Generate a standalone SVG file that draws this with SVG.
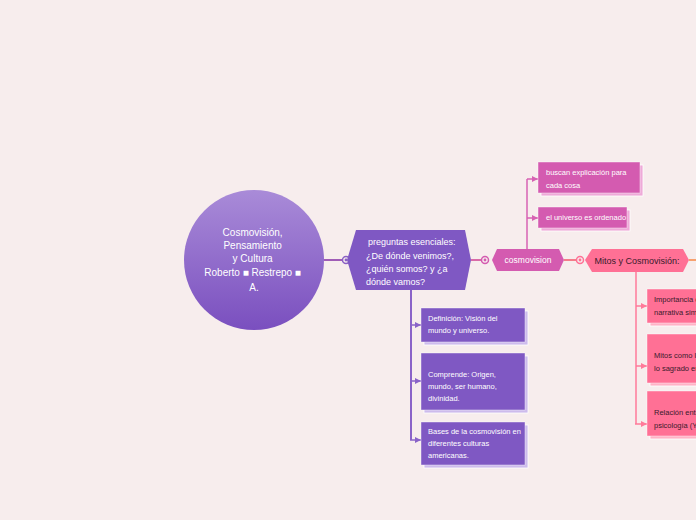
<svg xmlns="http://www.w3.org/2000/svg" width="696" height="520" viewBox="0 0 696 520">
<defs>
<linearGradient id="cg" x1="0" y1="0" x2="0" y2="1">
<stop offset="0" stop-color="#a98bd8"/>
<stop offset="1" stop-color="#7a4fbf"/>
</linearGradient>
<marker id="ap" viewBox="0 0 6 6" refX="6" refY="3" markerWidth="4" markerHeight="4" orient="auto"><path d="M0,0 L6,3 L0,6 Z" fill="#8a63c8"/></marker>
<marker id="am" viewBox="0 0 6 6" refX="6" refY="3" markerWidth="4" markerHeight="4" orient="auto"><path d="M0,0 L6,3 L0,6 Z" fill="#d762b3"/></marker>
<marker id="ak" viewBox="0 0 6 6" refX="6" refY="3" markerWidth="4" markerHeight="4" orient="auto"><path d="M0,0 L6,3 L0,6 Z" fill="#ff7a9a"/></marker>
</defs>
<style>
.t{font-family:"Liberation Sans",Arial,sans-serif;}
.w{fill:#ffffff;}
.d{fill:#3a1a2c;}
.s8{font-size:7.5px;}
.pb{fill:#7f58c3;stroke:#ffffff;stroke-width:0.7;stroke-opacity:0.6;}
.ps{fill:#cdbbec;stroke:#ffffff;stroke-width:0.8;}
.mb{fill:#d45bb0;stroke:#ffffff;stroke-width:0.7;stroke-opacity:0.6;}
.ms{fill:#eeaad8;stroke:#ffffff;stroke-width:0.8;}
.kb{fill:#ff7095;stroke:#ffffff;stroke-width:0.7;stroke-opacity:0.6;}
.ks{fill:#ffb3c6;stroke:#ffffff;stroke-width:0.8;}
.ring{fill:#f7eded;stroke-width:1.5;}
</style>
<rect x="0" y="0" width="696" height="520" fill="#f7eded"/>

<g id="connectors" fill="none">
<line x1="324" y1="260" x2="342" y2="260" stroke="#a05cb6" stroke-width="2"/>
<circle class="ring" cx="346" cy="260" r="3.5" stroke="#8a5fc4"/>
<circle cx="346" cy="260" r="1.4" fill="#8a5fc4"/>
<line x1="471" y1="260" x2="481" y2="260" stroke="#d96aa8" stroke-width="2"/>
<circle class="ring" cx="485" cy="260" r="3.5" stroke="#d45bb0"/>
<circle cx="485" cy="260" r="1.4" fill="#d45bb0"/>
<line x1="564" y1="260" x2="576" y2="260" stroke="#f47c8a" stroke-width="2"/>
<circle class="ring" cx="580" cy="260" r="3.5" stroke="#ff7095"/>
<circle cx="580" cy="260" r="1.4" fill="#ff7095"/>
<line x1="689" y1="260" x2="696" y2="260" stroke="#f7a16f" stroke-width="2"/>

<path d="M411,290 V440" stroke="#8a63c8" stroke-width="2"/>
<path d="M411,325 H421" stroke="#8a63c8" stroke-width="1.5" marker-end="url(#ap)"/>
<path d="M411,381 H421" stroke="#8a63c8" stroke-width="1.5" marker-end="url(#ap)"/>
<path d="M410,440 H421" stroke="#8a63c8" stroke-width="1.5" marker-end="url(#ap)"/>

<path d="M527,249 V179" stroke="#d762b3" stroke-width="1.5"/>
<path d="M527,179 H538" stroke="#d762b3" stroke-width="1.5" marker-end="url(#am)"/>
<path d="M527,218 H538" stroke="#d762b3" stroke-width="1.5" marker-end="url(#am)"/>

<path d="M636,272 V424" stroke="#ff7a9a" stroke-width="1.5"/>
<path d="M636,306 H647" stroke="#ff7a9a" stroke-width="1.5" marker-end="url(#ak)"/>
<path d="M636,366 H647" stroke="#ff7a9a" stroke-width="1.5" marker-end="url(#ak)"/>
<path d="M635,424 H647" stroke="#ff7a9a" stroke-width="1.5" marker-end="url(#ak)"/>
</g>

<g id="root">
<circle cx="254" cy="260" r="70" fill="url(#cg)"/>
<text class="t w" font-size="10" text-anchor="middle">
<tspan x="254" y="236">Cosmovisión,</tspan>
<tspan x="254" y="249">Pensamiento</tspan>
<tspan x="254" y="262">y Cultura</tspan>
<tspan x="254" y="276">Roberto ■ Restrepo ■</tspan>
<tspan x="254" y="291">A.</tspan>
</text>
</g>

<g id="preguntas">
<path d="M347,260 L356,230 L465,230 L471,260 L465,290 L356,290 Z" fill="#7f58c3"/>
<text class="t w" font-size="9">
<tspan x="368" y="245">preguntas esenciales:</tspan>
<tspan x="366" y="259">¿De dónde venimos?,</tspan>
<tspan x="366" y="272">¿quién somos? y ¿a</tspan>
<tspan x="366" y="285">dónde vamos?</tspan>
</text>
</g>

<g id="definicion">
<rect class="ps" x="424" y="311" width="104" height="34"/>
<rect class="pb" x="421" y="308" width="104" height="34"/>
<text class="t w s8"><tspan x="428" y="321">Definición: Visión del</tspan><tspan x="428" y="333">mundo y universo.</tspan></text>
</g>

<g id="comprende">
<rect class="ps" x="424" y="356" width="104" height="57"/>
<rect class="pb" x="421" y="353" width="104" height="57"/>
<text class="t w s8"><tspan x="428" y="377">Comprende: Origen,</tspan><tspan x="428" y="389">mundo, ser humano,</tspan><tspan x="428" y="401">divinidad.</tspan></text>
</g>

<g id="bases">
<rect class="ps" x="424" y="425" width="104" height="43"/>
<rect class="pb" x="421" y="422" width="104" height="43"/>
<text class="t w s8"><tspan x="428" y="434">Bases de la cosmovisión en</tspan><tspan x="428" y="446">diferentes culturas</tspan><tspan x="428" y="458">americanas.</tspan></text>
</g>

<g id="cosmovision">
<path d="M492,260 L497,249 L559,249 L564,260 L559,271 L497,271 Z" fill="#d45bb0"/>
<text class="t w" font-size="8.5" x="528" y="263" text-anchor="middle">cosmovision</text>
</g>

<g id="buscan">
<rect class="ms" x="541" y="165" width="102" height="31"/>
<rect class="mb" x="538" y="162" width="102" height="31"/>
<text class="t w s8"><tspan x="546" y="175">buscan explicación para</tspan><tspan x="546" y="188">cada cosa</tspan></text>
</g>

<g id="universo">
<rect class="ms" x="541" y="210" width="89" height="21"/>
<rect class="mb" x="538" y="207" width="89" height="21"/>
<text class="t w s8" x="546" y="220">el universo es ordenado</text>
</g>

<g id="mitos">
<path d="M585,260 L592,249 L683,249 L689,260 L683,272 L592,272 Z" fill="#ff7095"/>
<text class="t d" font-size="9" x="637" y="263.5" text-anchor="middle">Mitos y Cosmovisión:</text>
</g>

<g id="importancia">
<rect class="ks" x="650" y="292" width="60" height="34"/>
<rect class="kb" x="647" y="289" width="60" height="34"/>
<text class="t d s8"><tspan x="654" y="302">Importancia de la</tspan><tspan x="654" y="315">narrativa simbólica</tspan></text>
</g>

<g id="sagrado">
<rect class="ks" x="650" y="337" width="60" height="49"/>
<rect class="kb" x="647" y="334" width="60" height="49"/>
<text class="t d s8"><tspan x="654" y="358">Mitos como lo</tspan><tspan x="654" y="371">lo sagrado en</tspan></text>
</g>

<g id="relacion">
<rect class="ks" x="650" y="394" width="60" height="45"/>
<rect class="kb" x="647" y="391" width="60" height="45"/>
<text class="t d s8"><tspan x="654" y="415">Relación entre</tspan><tspan x="654" y="428">psicología (Y</tspan></text>
</g>
</svg>
